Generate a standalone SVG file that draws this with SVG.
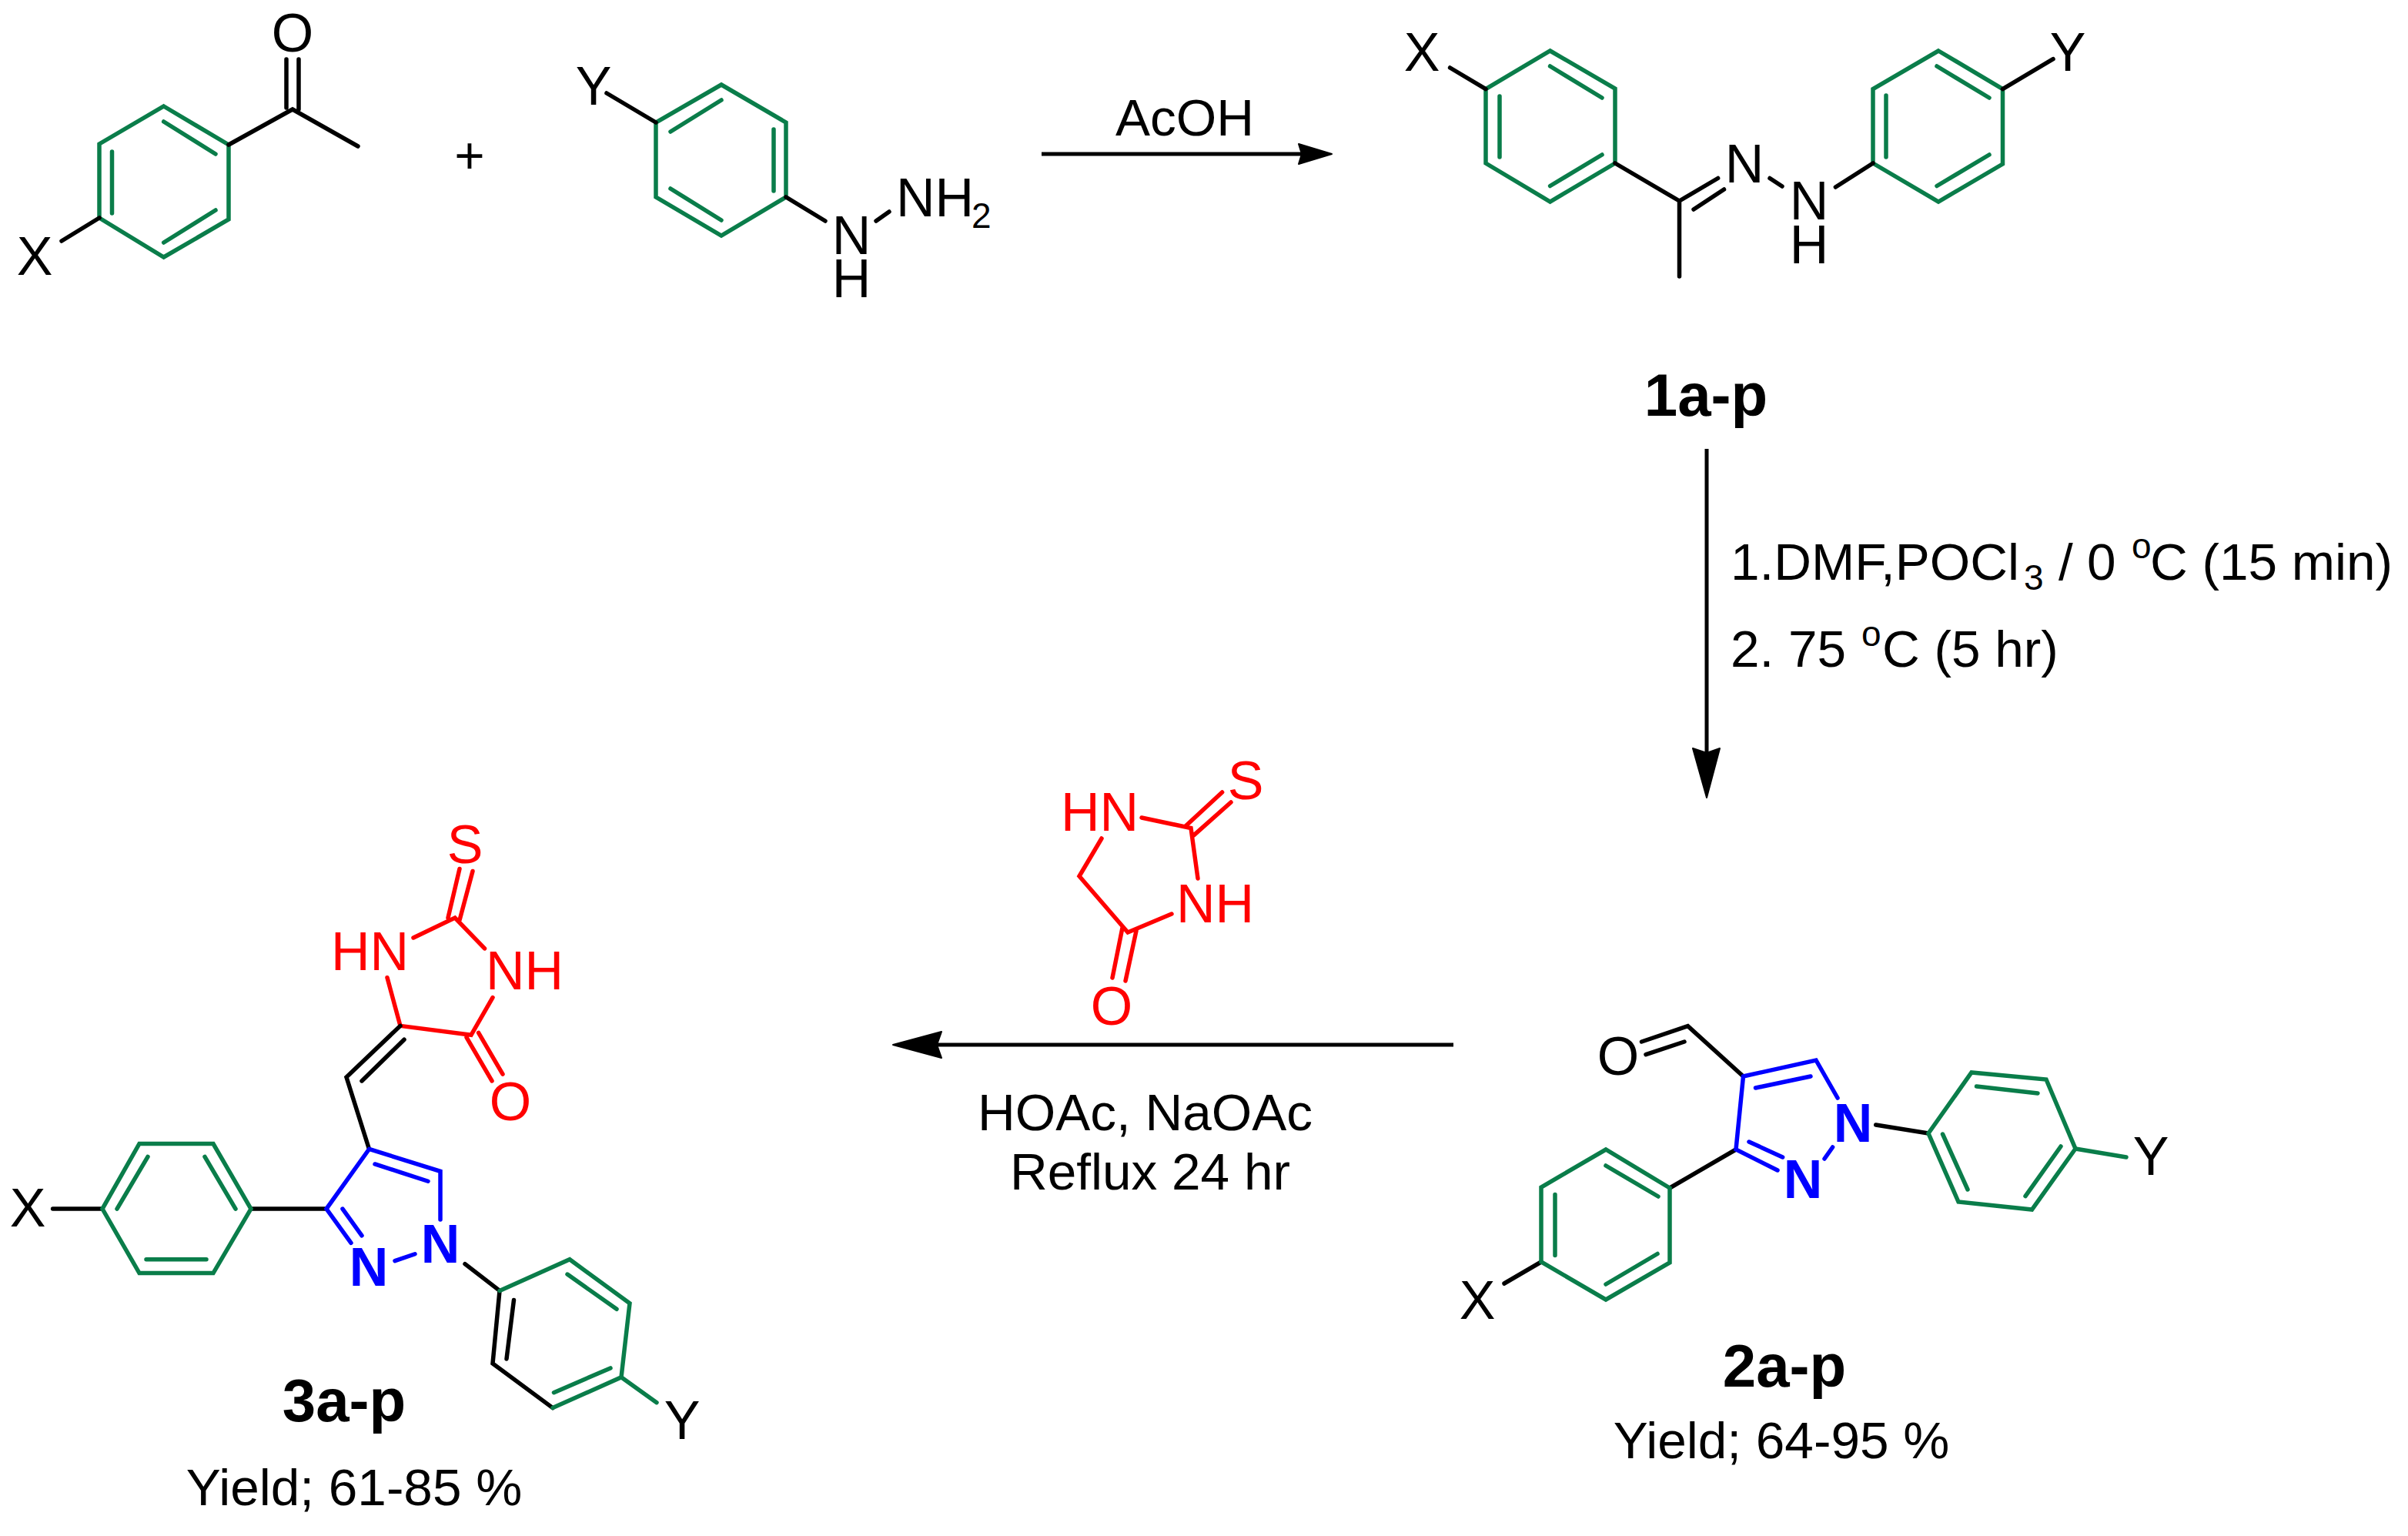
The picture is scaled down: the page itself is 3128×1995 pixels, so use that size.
<svg xmlns="http://www.w3.org/2000/svg" width="3128" height="1995" viewBox="0 0 3128 1995">
<style>
text{font-family:"Liberation Sans",Arial,sans-serif;font-size:70px;fill:#000}
.m{text-anchor:middle}
.t{font-size:67.5px}
.b{font-size:78px;font-weight:bold}
.sub{font-size:46px}
.r{fill:#f00}
.bl{fill:#00f;font-weight:bold}
path{fill:none;stroke-width:5.5;stroke-linecap:round;stroke-linejoin:miter}
.k{stroke:#000}.g{stroke:#0a7d4a}.u{stroke:#00f}.e{stroke:#f00}
.a{stroke:#000;stroke-width:5;stroke-linecap:butt}
.h{fill:#000;stroke:#000;stroke-width:2;stroke-linejoin:round}
</style>
<rect width="3128" height="1995" fill="#fff"/>
<g id="connectors">
<path class="a" d="M1353 200H1695"/><path class="h" d="M1730 200L1687 187L1691 200L1687 213Z"/>
<path class="a" d="M2217 583V985"/><path class="h" d="M2217 1036L2199 972L2217 978L2234 972Z"/>
<path class="a" d="M1888 1357H1210"/><path class="h" d="M1160 1357L1223 1340L1217 1357L1223 1374Z"/>
</g>
<g id="reactant-ketone">
<path class="g" d="M212.7 138L297 188V285L212.7 334L129 283V187Z"/>
<path class="g" d="M212.7 158L280 200M145.5 197V277M280 273L212.7 315"/>
<path class="k" d="M129 283L80 313M297 188L380 142L465 190M372 77V140M388 77V142"/>
<text class="m" x="380" y="67">O</text>
<text class="m" x="45" y="357">X</text>
</g>
<g id="plus"><text class="m t" x="610" y="225">+</text></g>
<g id="reactant-hydrazine">
<path class="g" d="M937 110L1021 159V256L937 306L852 256V159Z"/>
<path class="g" d="M871 171L937 130M1005 168V248M871 245L937 286"/>
<path class="k" d="M852 159L788 121M1021 256L1072 287M1138 287L1155 275"/>
<text class="m" x="771" y="136">Y</text>
<text class="m" x="1106" y="330">N</text>
<text class="m" x="1106" y="386">H</text>
<text x="1164" y="281">NH</text>
<text class="sub" x="1262" y="296">2</text>
</g>
<g id="label-acoh"><text class="m t" x="1539" y="176">AcOH</text></g>
<g id="compound-1">
<path class="g" d="M2013.6 66L2098 115V212L2013.6 262L1930 212V115.6Z"/>
<path class="g" d="M2013.6 86L2081 127M1948 125V204M2081 201L2013.6 241.5"/>
<path class="g" d="M2518 66L2601.5 115.6V213L2518 262L2433 212V115.6Z"/>
<path class="g" d="M2516 86L2584 127M2450 124V204M2584 201L2516 241.5"/>
<path class="k" d="M1930 115.6L1883.6 88M2098 212L2181.5 261V359M2181.5 261L2231.6 231.5M2200 272L2239.5 246M2299 231.5L2315 242M2384.4 243L2433 212M2601.5 115.6L2667 76.7"/>
<text class="m" x="1847" y="92">X</text>
<text class="m" x="2686" y="92">Y</text>
<text class="m" x="2266" y="237">N</text>
<text class="m" x="2350" y="285">N</text>
<text class="m" x="2350" y="342">H</text>
<text class="m b" x="2216" y="540">1a-p</text>
</g>
<g id="label-conditions-1">
<text class="t" x="2248" y="753">1.DMF,POCl</text>
<text class="sub" x="2629" y="766">3</text>
<text class="t" x="2674" y="753">/</text>
<text class="t" x="2711" y="753">0</text>
<text class="sub" x="2769" y="725">o</text>
<text class="t" x="2793" y="753">C (15 min)</text>
<text class="t" x="2248" y="866">2. 75</text>
<text class="sub" x="2418" y="839">o</text>
<text class="t" x="2445" y="866">C (5 hr)</text>
</g>
<g id="compound-2">
<path class="k" d="M2132.5 1353L2192.5 1332.6L2264.5 1398M2138 1369.6L2188 1353M2255 1493L2169 1543M2436.7 1461L2505 1472M2002 1639L1954 1667"/>
<path class="u" d="M2264.5 1398L2359 1377L2387 1426M2280.5 1413L2352 1398M2264.5 1398L2255 1493L2309 1520M2272 1483L2315.6 1503M2370 1505L2380.6 1490"/>
<path class="g" d="M2505 1472L2561 1393L2658 1402L2696 1492L2639.5 1571L2544 1561Z"/>
<path class="g" d="M2567.5 1411L2647 1420M2677 1489L2631 1553.6M2523.5 1473L2556 1545M2696 1492L2762 1503"/>
<path class="g" d="M2169 1543L2086 1493L2002 1542V1639L2086 1688L2169 1640Z"/>
<path class="g" d="M2086 1514L2154 1554M2020 1551.5V1630.6M2153 1628.5L2086 1668"/>
<text class="m" x="2102" y="1396">O</text>
<text class="m bl" x="2342" y="1556">N</text>
<text class="m bl" x="2407" y="1483">N</text>
<text class="m" x="2794" y="1526">Y</text>
<text class="m" x="1919" y="1713">X</text>
<text class="m b" x="2318" y="1801">2a-p</text>
<text class="m t" x="2314" y="1894">Yield; 64-95 %</text>
</g>
<g id="reagent-thiohydantoin">
<path class="e" d="M1587.6 1029L1540 1073M1599 1042L1551 1084.6M1483 1062L1547 1075.5L1556 1141M1431 1089L1402 1138L1465 1211L1522 1187M1458 1205L1445 1270M1476 1209L1462 1274"/>
<text class="m r" x="1618" y="1038">S</text>
<text class="r" x="1378" y="1079">HN</text>
<text class="r" x="1528" y="1198">NH</text>
<text class="m r" x="1444" y="1331">O</text>
</g>
<g id="label-conditions-2">
<text class="t" x="1270" y="1468">HOAc, NaOAc</text>
<text class="t" x="1312" y="1545">Reflux 24 hr</text>
</g>
<g id="compound-3" transform="translate(0 5.7) scale(1 .9945)">
<path class="e" d="M582 1193L597 1129M597 1196L614 1132M537 1219L591 1193L629.5 1233M503 1271L520 1334L612 1346L640 1297M606 1349L639 1406M621.6 1343L653 1397"/>
<path class="k" d="M520 1334L450 1401L479.5 1495M525 1352L470 1406M424 1573H326M604 1645L649 1680M133 1573H68.6M718 1833L640 1775L649 1680M667.5 1692L658 1769"/>
<path class="u" d="M479.5 1495L572 1524V1587M487 1514.6L556 1537M479.5 1495L424 1573L456 1617.5M445 1573L470 1608M513 1641L539 1632"/>
<path class="g" d="M326 1573L277 1488H181L133 1573L181 1657H277Z"/>
<path class="g" d="M266 1505L306 1573M192 1505L152 1573M190 1639H268"/>
<path class="g" d="M649 1680L740 1639L818 1696.5L807 1793L718 1833M737 1658.5L801 1704M793 1781L719.5 1813M807 1793L853 1826"/>
<text class="m r" x="604" y="1121">S</text>
<text class="r" x="430" y="1261">HN</text>
<text class="r" x="631" y="1286">NH</text>
<text class="m r" x="663" y="1457">O</text>
<text class="m bl" x="479" y="1674">N</text>
<text class="m bl" x="572" y="1643">N</text>
<text class="m" x="36" y="1596">X</text>
<text class="m" x="886" y="1874">Y</text>
<text class="m b" x="447" y="1850">3a-p</text>
<text class="m t" x="460" y="1960">Yield; 61-85 %</text>
</g>
</svg>
